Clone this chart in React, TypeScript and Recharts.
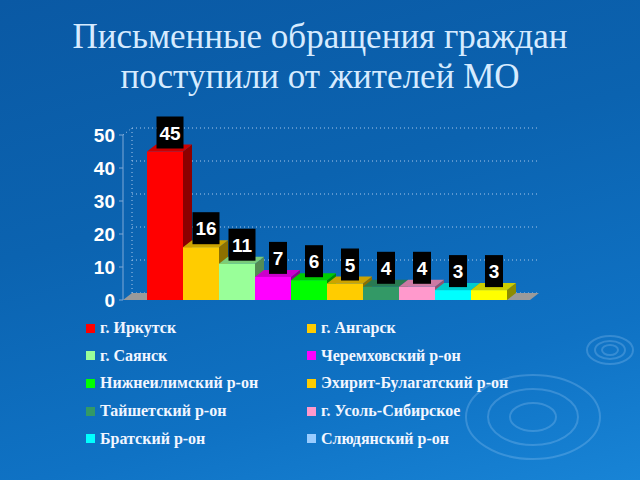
import { BarChart, Bar, XAxis, YAxis, CartesianGrid, Cell, LabelList } from "recharts";

const districts = [
  "г. Иркутск",
  "г. Ангарск",
  "г. Саянск",
  "Черемховский р-он",
  "Нижнеилимский р-он",
  "Эхирит-Булагатский р-он",
  "Тайшетский р-он",
  "г. Усоль-Сибирское",
  "Братский р-он",
  "Слюдянский р-он",
];
const letters = [45, 16, 11, 7, 6, 5, 4, 4, 3, 3];
const barColors = [
  "#ff0000", "#ffcc00", "#99ff99", "#ff00ff", "#00ff00",
  "#ffcc00", "#339966", "#ff99cc", "#00ffff", "#ffff00",
];
const legendColors = [
  "#ff0000", "#ffcc00", "#99ff99", "#ff00ff", "#00ff00",
  "#ffcc00", "#339966", "#ff99cc", "#00ffff", "#99ccff",
];
const yTicks = [0, 10, 20, 30, 40, 50];

const data = districts.map((name, i) => ({ name, value: letters[i], color: barColors[i] }));

const SERIF = "'Liberation Serif', 'DejaVu Serif', 'Times New Roman', serif";
const SANS = "'Liberation Sans', Arial, sans-serif";

// 3d depth of the bars / walls
const DX = 9;
const DY = 7;

function shade(hex: string, k: number) {
  const n = parseInt(hex.slice(1), 16);
  const r = Math.round(((n >> 16) & 255) * k);
  const g = Math.round(((n >> 8) & 255) * k);
  const b = Math.round((n & 255) * k);
  return `rgb(${r},${g},${b})`;
}

function Bar3D(props: any) {
  const { x, y, width, height, payload } = props;
  const c = payload.color;
  return (
    <g>
      <polygon
        points={`${x + width},${y} ${x + width + DX},${y - DY} ${x + width + DX},${y + height - DY} ${x + width},${y + height}`}
        fill={shade(c, 0.55)}
      />
      <polygon
        points={`${x},${y} ${x + DX},${y - DY} ${x + width + DX},${y - DY} ${x + width},${y}`}
        fill={shade(c, 0.8)}
      />
      <rect x={x} y={y} width={width} height={height} fill={c} />
    </g>
  );
}

function ValueBox(props: any) {
  const { x, y, width, value } = props;
  const w = String(value).length > 1 ? 27 : 18;
  const h = 32;
  const cx = x + width / 2 + 5;
  const bottom = y - 3;
  return (
    <g>
      <rect x={cx - w / 2} y={bottom - h} width={w} height={h} fill="#000" />
      <text
        x={cx}
        y={bottom - h / 2 + 7}
        textAnchor="middle"
        fill="#fff"
        fontFamily={SANS}
        fontWeight="bold"
        fontSize={19}
      >
        {value}
      </text>
    </g>
  );
}

function GridLine(props: any) {
  const { x1, x2, y1 } = props;
  return (
    <line
      key={props.key}
      x1={x1 + DX}
      x2={x2 + DX}
      y1={y1 - DY}
      y2={y1 - DY}
      stroke="#a9c7ea"
      strokeWidth={1}
      strokeDasharray="1 3"
    />
  );
}

// back wall edge, corner link and the grey floor
function BackWall(props: any) {
  const { x1, y1, y2 } = props;
  return (
    <g key={props.key}>
      <line x1={x1 + DX} x2={x1 + DX} y1={y1 - DY} y2={y2 - DY} stroke="#a9c7ea" strokeDasharray="1 3" />
      <line x1={x1} x2={x1 + DX} y1={y1} y2={y1 - DY} stroke="#a9c7ea" strokeDasharray="1 3" />
      <polygon
        points={`${x1},${y2} ${x1 + DX},${y2 - DY} ${x1 + 407 + DX},${y2 - DY} ${x1 + 407},${y2}`}
        fill="#9a9a9a"
      />
    </g>
  );
}

function YTick(props: any) {
  const { x, y, payload } = props;
  return (
    <text x={x - 2} y={y + 7} textAnchor="end" fill="#fff" fontFamily={SANS} fontWeight="bold" fontSize={19}>
      {payload.value}
    </text>
  );
}

export default function App() {
  return (
    <div
      style={{
        position: "absolute",
        left: 0,
        top: 0,
        width: 640,
        height: 480,
        overflow: "hidden",
        background: "linear-gradient(165deg, #0a59a4 0%, #0b63b0 40%, #0f72c4 75%, #1884d6 100%)",
      }}
    >
      <svg width={640} height={480} style={{ position: "absolute", left: 0, top: 0 }}>
        <g fill="none" stroke="rgba(190,225,255,0.22)" strokeWidth={2}>
          <ellipse cx={533} cy={417} rx={23} ry={14} />
          <ellipse cx={533} cy={417} rx={45} ry={28} />
          <ellipse cx={533} cy={417} rx={67} ry={42} />
          <ellipse cx={610} cy={350} rx={8} ry={5} />
          <ellipse cx={610} cy={350} rx={15} ry={9} />
          <ellipse cx={610} cy={350} rx={23} ry={14} />
        </g>
      </svg>
      <div
        style={{
          position: "absolute",
          left: 0,
          top: 17,
          width: 640,
          textAlign: "center",
          fontFamily: SERIF,
          fontWeight: "normal",
          fontSize: 35,
          lineHeight: "40px",
          color: "#d6ebff",
        }}
      >
        Письменные обращения граждан
        <br />
        поступили от жителей МО
      </div>
      <div style={{ position: "absolute", left: 0, top: 0 }}>
        <BarChart
          width={640}
          height={480}
          data={data}
          barCategoryGap={0}
          margin={{ top: 135, right: 110, bottom: 180, left: 83 }}
        >
          <CartesianGrid horizontal={GridLine} vertical={BackWall} verticalPoints={[123]} />
          <XAxis dataKey="name" hide padding={{ left: 24, right: 23 }} />
          <YAxis
            width={40}
            domain={[0, 50]}
            ticks={yTicks}
            tick={YTick}
            axisLine={{ stroke: "#7fa8d6" }}
            tickLine={{ stroke: "#7fa8d6" }}
            tickSize={4}
          />
          <Bar dataKey="value" isAnimationActive={false} shape={Bar3D}>
            {data.map((d, i) => (
              <Cell key={i} fill={d.color} />
            ))}
            <LabelList dataKey="value" content={ValueBox} />
          </Bar>
        </BarChart>
      </div>
      {districts.map((name, i) => {
        const col = i % 2;
        const row = Math.floor(i / 2);
        return (
          <div
            key={name}
            style={{
              position: "absolute",
              left: col === 0 ? 86 : 307,
              top: 319 + row * 27.7,
              height: 18,
              display: "flex",
              alignItems: "center",
              fontFamily: SERIF,
              fontWeight: "bold",
              fontSize: 16,
              color: "#f2f6ff",
              whiteSpace: "nowrap",
            }}
          >
            <span
              style={{
                display: "inline-block",
                width: 9,
                height: 9,
                background: legendColors[i],
                marginRight: 5,
              }}
            />
            {name}
          </div>
        );
      })}
    </div>
  );
}
